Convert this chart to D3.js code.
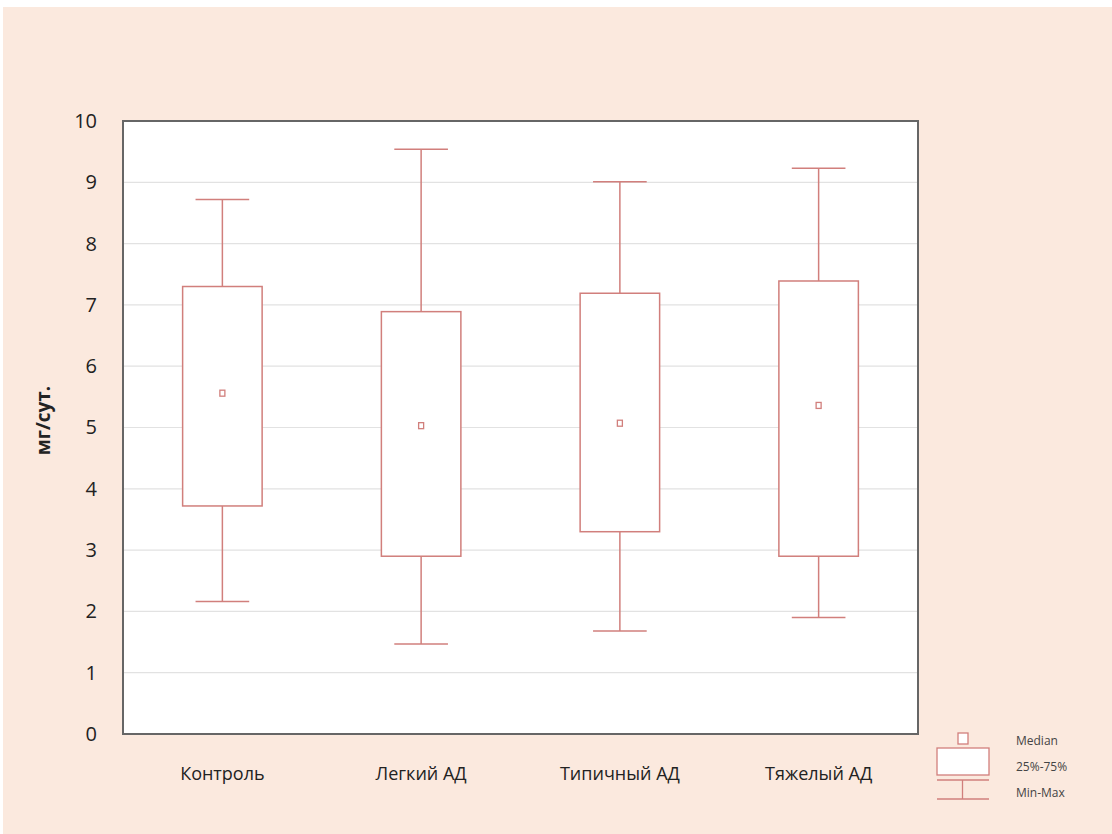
<!DOCTYPE html>
<html>
<head>
<meta charset="utf-8">
<script src="https://cdn.jsdelivr.net/npm/d3@7"></script>
<style>
  body { margin: 0; background: #fff; }
  svg { display: block; font-family: "Open Sans", sans-serif; }
</style>
</head>
<body>
<div id="chart"></div>
<script>
// data
var groups = ["Контроль", "Легкий АД", "Типичный АД", "Тяжелый АД"];
var mins    = [2.16, 1.47, 1.68, 1.90];
var q1s     = [3.72, 2.90, 3.30, 2.90];
var medians = [5.56, 5.03, 5.07, 5.36];
var q3s     = [7.30, 6.89, 7.19, 7.39];
var maxs    = [8.72, 9.54, 9.01, 9.23];
var yTicks  = [0, 1, 2, 3, 4, 5, 6, 7, 8, 9, 10];
var legendLabels = ["Median", "25%-75%", "Min-Max"];

var svgWidth = 1112;
var svgHeight = 834;

var margin = { top: 121, right: 194, bottom: 100, left: 123 };
var width = svgWidth - margin.left - margin.right;
var height = svgHeight - margin.top - margin.bottom;

var boxColor = "#d17f7c";

var svg = d3.select("#chart")
  .append("svg")
  .attr("width", svgWidth)
  .attr("height", svgHeight);

// peach background
svg.append("rect")
  .attr("x", 3)
  .attr("y", 7)
  .attr("width", svgWidth - 3)
  .attr("height", svgHeight - 7)
  .attr("fill", "#fbe9de");

var chartGroup = svg.append("g")
  .attr("transform", `translate(${margin.left}, ${margin.top})`);

var data = groups.map(function (g, i) {
  return { name: g, min: mins[i], q1: q1s[i], med: medians[i], q3: q3s[i], max: maxs[i] };
});

var xScale = d3.scaleBand()
  .domain(groups)
  .range([0, width])
  .padding(0);

var yScale = d3.scaleLinear()
  .domain([0, 10])
  .range([height, 0]);

// plot area
chartGroup.append("rect")
  .attr("width", width)
  .attr("height", height)
  .attr("fill", "#fff");

// gridlines
chartGroup.append("g")
  .selectAll("line")
  .data(yTicks.filter(d => d > 0 && d < 10))
  .enter()
  .append("line")
  .attr("x1", 0)
  .attr("x2", width)
  .attr("y1", d => yScale(d))
  .attr("y2", d => yScale(d))
  .attr("stroke", "#e2e2e2")
  .attr("stroke-width", 1.2);

// frame
chartGroup.append("rect")
  .attr("width", width)
  .attr("height", height)
  .attr("fill", "none")
  .attr("stroke", "#666")
  .attr("stroke-width", 2);

// y axis labels
var leftAxis = d3.axisLeft(yScale)
  .tickValues(yTicks)
  .tickSize(0)
  .tickPadding(26)
  .tickFormat(d3.format("d"));

var yAxis = chartGroup.append("g").call(leftAxis);
yAxis.select(".domain").remove();
yAxis.selectAll("text")
  .attr("font-size", 20)
  .attr("font-family", "'Open Sans', sans-serif")
  .attr("fill", "#222");

// x axis labels
var bottomAxis = d3.axisBottom(xScale)
  .tickSize(0)
  .tickPadding(33);

var xAxis = chartGroup.append("g")
  .attr("transform", `translate(0, ${height})`)
  .call(bottomAxis);
xAxis.select(".domain").remove();
xAxis.selectAll("text")
  .attr("font-size", 18)
  .attr("font-family", "'Open Sans', sans-serif")
  .attr("fill", "#222");

// y title
svg.append("text")
  .attr("transform", `translate(50, ${margin.top + height / 2 - 7}) rotate(-90)`)
  .attr("text-anchor", "middle")
  .attr("font-size", 19)
  .attr("font-weight", "bold")
  .attr("fill", "#222")
  .text("мг/сут.");

// boxes
var bw = xScale.bandwidth();
var boxW = bw * 0.4;
var capW = bw * 0.27;

var boxes = chartGroup.selectAll(".box")
  .data(data)
  .enter()
  .append("g")
  .attr("class", "box")
  .attr("transform", d => `translate(${xScale(d.name) + bw / 2}, 0)`);

// whiskers
boxes.append("line")
  .attr("x1", 0).attr("x2", 0)
  .attr("y1", d => yScale(d.max))
  .attr("y2", d => yScale(d.q3))
  .attr("stroke", boxColor).attr("stroke-width", 1.5);

boxes.append("line")
  .attr("x1", 0).attr("x2", 0)
  .attr("y1", d => yScale(d.q1))
  .attr("y2", d => yScale(d.min))
  .attr("stroke", boxColor).attr("stroke-width", 1.5);

boxes.append("line")
  .attr("x1", -capW / 2).attr("x2", capW / 2)
  .attr("y1", d => yScale(d.max))
  .attr("y2", d => yScale(d.max))
  .attr("stroke", boxColor).attr("stroke-width", 1.5);

boxes.append("line")
  .attr("x1", -capW / 2).attr("x2", capW / 2)
  .attr("y1", d => yScale(d.min))
  .attr("y2", d => yScale(d.min))
  .attr("stroke", boxColor).attr("stroke-width", 1.5);

boxes.append("rect")
  .attr("x", -boxW / 2)
  .attr("width", boxW)
  .attr("y", d => yScale(d.q3))
  .attr("height", d => yScale(d.q1) - yScale(d.q3))
  .attr("fill", "#fff")
  .attr("stroke", boxColor)
  .attr("stroke-width", 1.5);

// median squares
boxes.append("rect")
  .attr("x", -2.5)
  .attr("y", d => yScale(d.med) - 3)
  .attr("width", 5)
  .attr("height", 6)
  .attr("fill", "#fff")
  .attr("stroke", boxColor)
  .attr("stroke-width", 1.3);

// legend
var legend = svg.append("g");

legend.append("rect")
  .attr("x", 958).attr("y", 733)
  .attr("width", 10).attr("height", 11)
  .attr("fill", "#fff").attr("stroke", boxColor).attr("stroke-width", 1.3);

legend.append("rect")
  .attr("x", 937).attr("y", 748)
  .attr("width", 52).attr("height", 27)
  .attr("fill", "#fff").attr("stroke", boxColor).attr("stroke-width", 1.3);

legend.append("line")
  .attr("x1", 937).attr("x2", 989).attr("y1", 780).attr("y2", 780)
  .attr("stroke", boxColor).attr("stroke-width", 1.3);
legend.append("line")
  .attr("x1", 962.5).attr("x2", 962.5).attr("y1", 780).attr("y2", 799)
  .attr("stroke", boxColor).attr("stroke-width", 1.3);
legend.append("line")
  .attr("x1", 937).attr("x2", 989).attr("y1", 799).attr("y2", 799)
  .attr("stroke", boxColor).attr("stroke-width", 1.3);

legend.selectAll(".lbl")
  .data(legendLabels)
  .enter()
  .append("text")
  .attr("class", "lbl")
  .attr("x", 1016)
  .attr("y", (d, i) => 745 + i * 26)
  .attr("font-size", 12)
  .attr("fill", "#444")
  .text(d => d);
</script>
</body>
</html>
